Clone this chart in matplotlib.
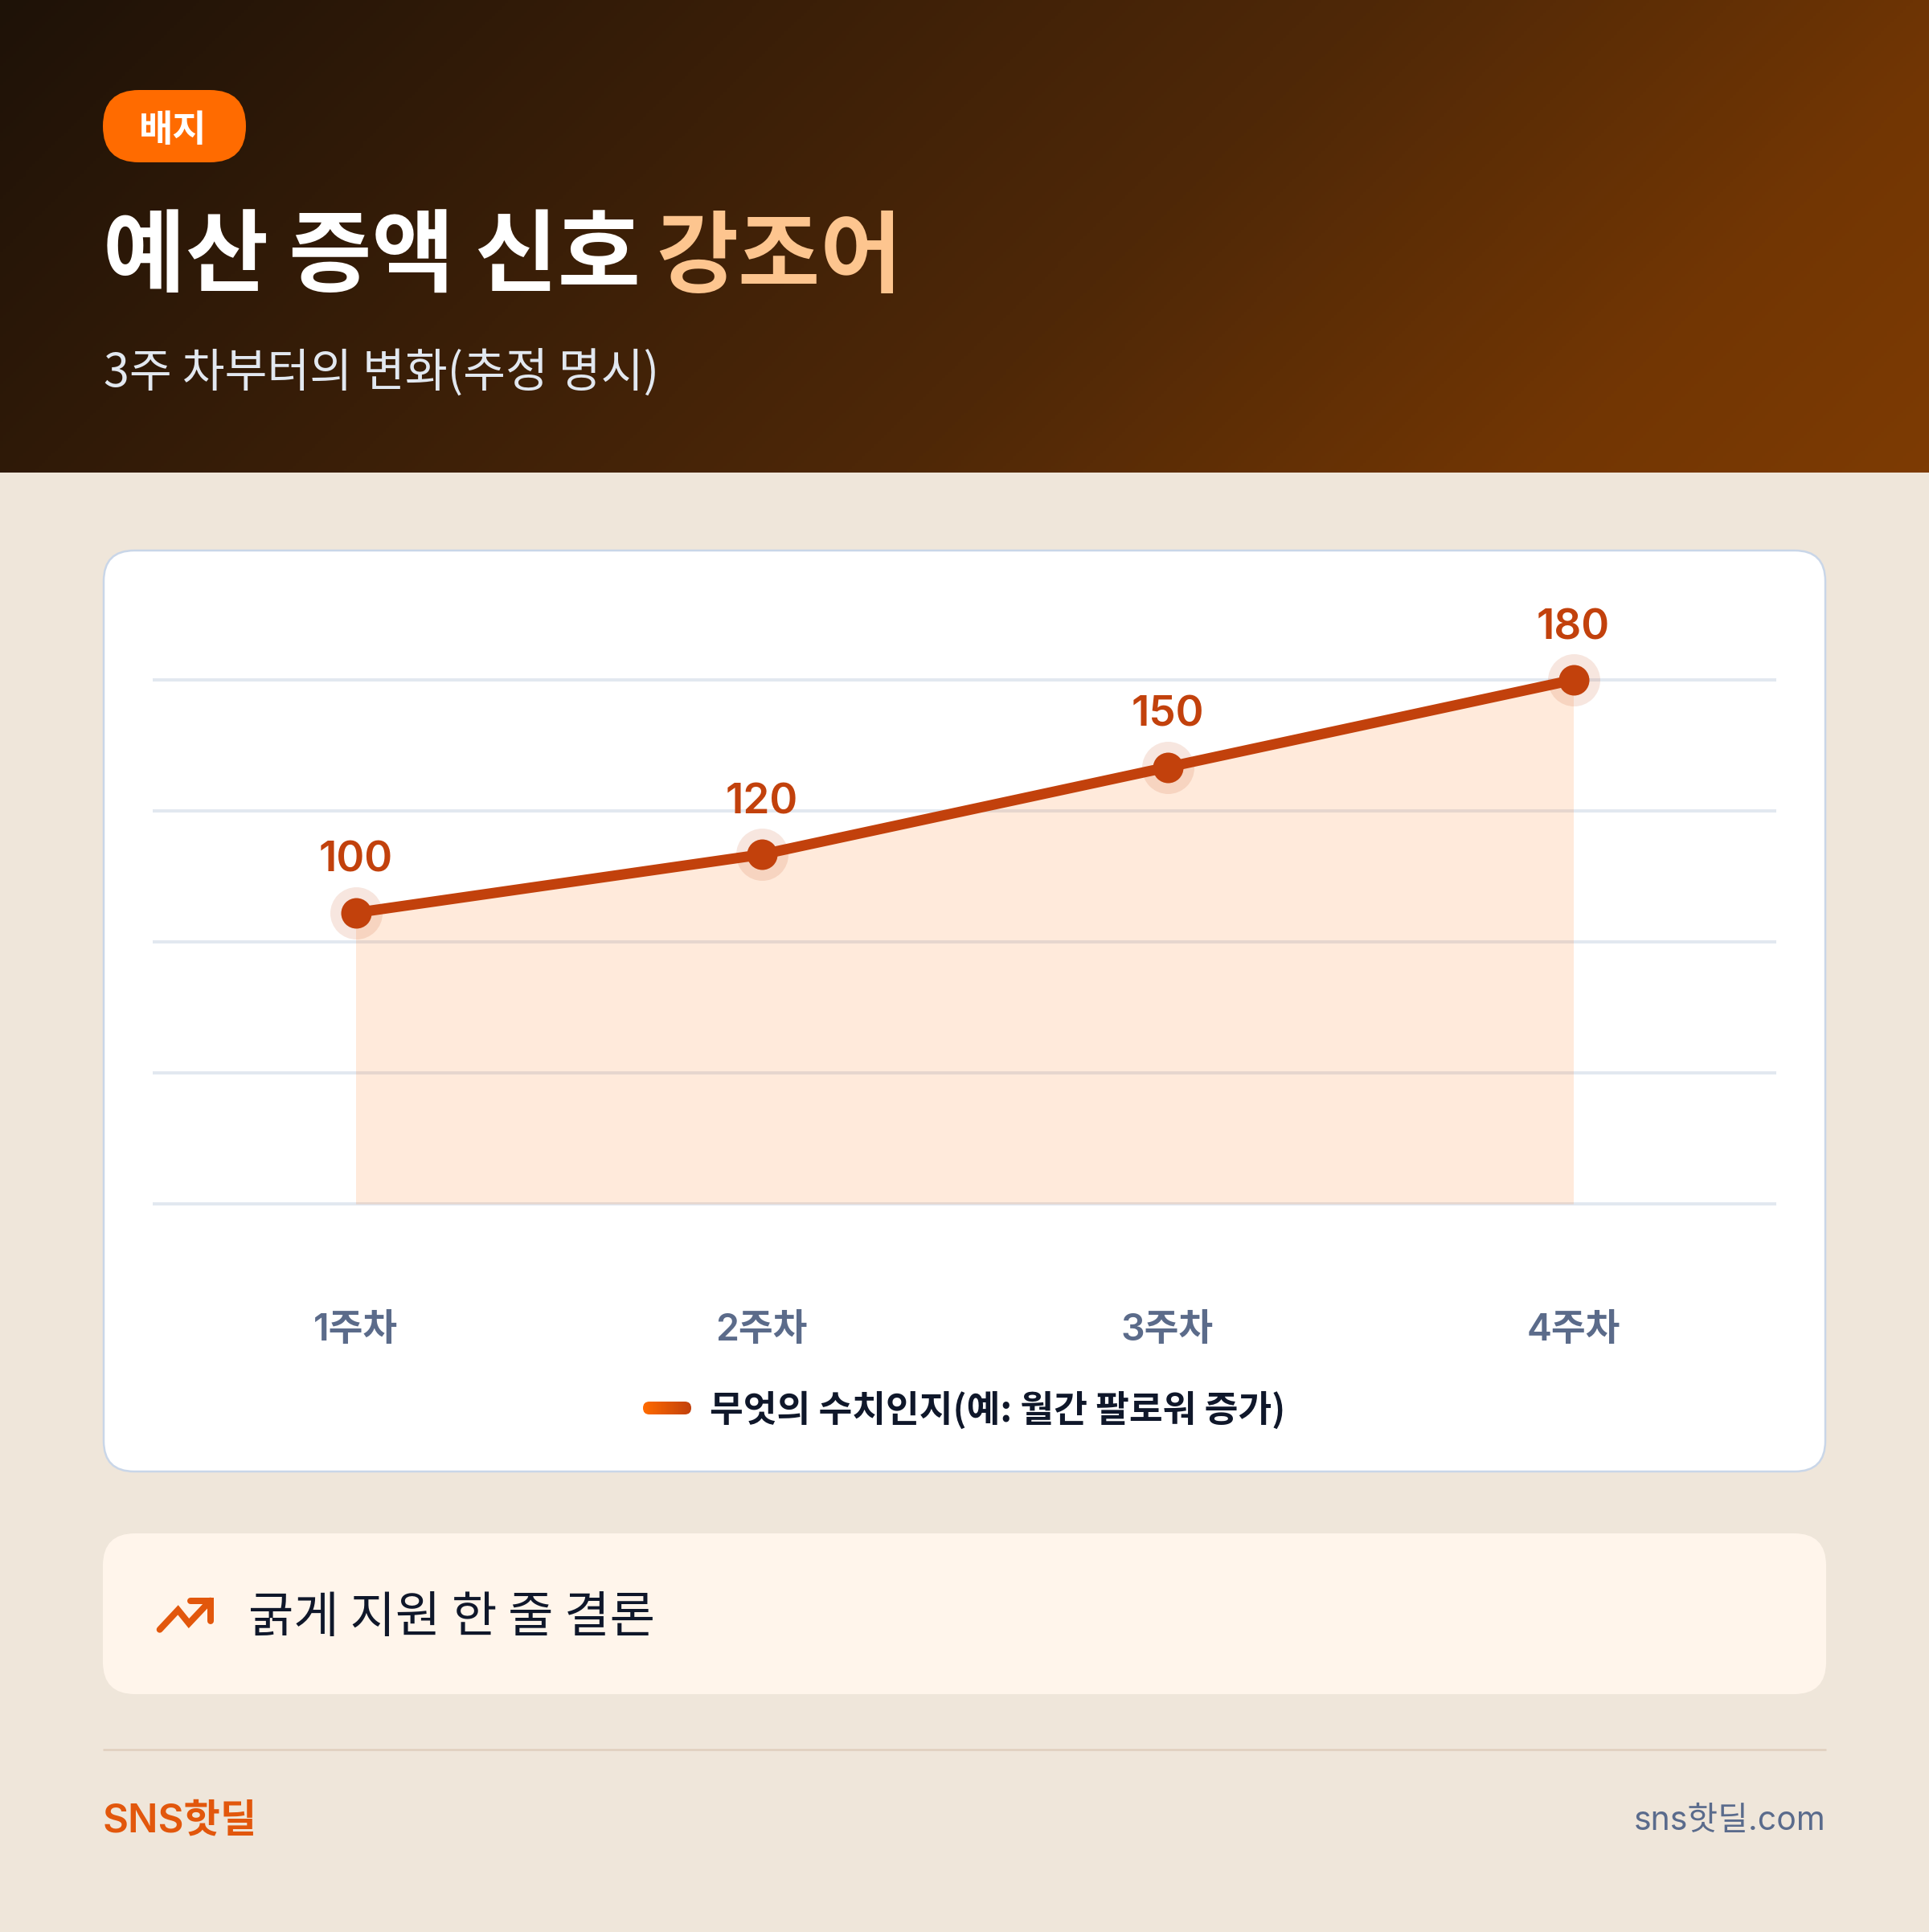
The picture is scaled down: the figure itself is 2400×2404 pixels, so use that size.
import numpy as np
import matplotlib
matplotlib.use("Agg")
import matplotlib.pyplot as plt
from matplotlib.patches import FancyBboxPatch
from matplotlib.colors import LinearSegmentedColormap

weeks = ["1주차", "2주차", "3주차", "4주차"]
values = [100, 120, 150, 180]
grid_values = [0, 45, 90, 135, 180]
legend_label = "무엇의 수치인지(예: 월간 팔로워 증가)"

FONT = ["Inter", "Noto Sans CJK KR", "DejaVu Sans"]
KR_FIRST = ["Noto Sans CJK KR", "Inter", "DejaVu Sans"]
plt.rcParams["font.family"] = FONT

W, H = 2400, 2404
DPI = 100


def px(size):
    # css pixels to points
    return size * 72 / DPI


fig = plt.figure(figsize=(W / DPI, H / DPI), dpi=DPI, facecolor="#efe6da")

# page layer, in image pixels
bg = fig.add_axes([0, 0, 1, 1], zorder=0)
bg.set_xlim(0, W)
bg.set_ylim(H, 0)
bg.axis("off")

# header gradient, 135deg
hh = 588
xx, yy = np.meshgrid(np.linspace(0, W, 600), np.linspace(0, hh, 150))
t = (xx + yy) / (W + hh)
head_cmap = LinearSegmentedColormap.from_list(
    "head", [(0, "#1e1207"), (0.576, "#4f2807"), (0.837, "#723604"), (1, "#7d3b03")])
bg.imshow(t, extent=(0, W, hh, 0), cmap=head_cmap, vmin=0, vmax=1, aspect="auto", zorder=1)
bg.set_xlim(0, W)
bg.set_ylim(H, 0)

# badge
bg.add_patch(FancyBboxPatch((128, 112), 178, 90, boxstyle="round,pad=0,rounding_size=45",
                            fc="#ff6b00", ec="none", zorder=2))
bg.text(215, 157, "배지", color="white", fontsize=px(46), fontweight="bold", family=KR_FIRST,
        ha="center", va="center_baseline", zorder=3)

# title in two colours
t1 = bg.text(128, 355, "예산 증액 신호", color="white", fontsize=px(112), fontweight="bold",
             family=KR_FIRST, ha="left", va="baseline", zorder=3)
fig.canvas.draw()
box = t1.get_window_extent(fig.canvas.get_renderer())
bg.text(box.x1 + 19, 355, "강조어", color="#fdc58f", fontsize=px(111), fontweight="bold",
        family=KR_FIRST, ha="left", va="baseline", zorder=3)

bg.text(129, 482, "3주 차부터의 변화(추정 명시)", color="#e2e8f0", fontsize=px(57.5),
        family=KR_FIRST, ha="left", va="baseline", zorder=3)

# chart card
bg.add_patch(FancyBboxPatch((129, 685), 2142, 1146, boxstyle="round,pad=0,rounding_size=38",
                            fc="white", ec="#c9d6e8", lw=px(2.5), zorder=2))

# legend swatch
sw = FancyBboxPatch((800, 1744), 60, 16, boxstyle="round,pad=0,rounding_size=8",
                    fc="none", ec="none", zorder=3)
bg.add_patch(sw)
swatch_cmap = LinearSegmentedColormap.from_list("sw", ["#ff6b00", "#c2410c"])
im = bg.imshow(np.linspace(0, 1, 60).reshape(1, -1), extent=(800, 860, 1760, 1744),
               cmap=swatch_cmap, aspect="auto", zorder=3)
im.set_clip_path(sw)
bg.set_xlim(0, W)
bg.set_ylim(H, 0)
bg.text(883, 1750, legend_label, color="#0f172a", fontsize=px(45.4), fontweight="semibold",
        family=KR_FIRST, ha="left", va="center_baseline", zorder=3)

# callout
bg.add_patch(FancyBboxPatch((128, 1908), 2144, 200, boxstyle="round,pad=0,rounding_size=40",
                            fc="#fff5eb", ec="none", zorder=2))
bg.plot([198.7, 221.5, 235, 261.7], [2027.7, 2003.3, 2020, 1991.7], color="#e2570c", lw=px(8),
        solid_capstyle="round", solid_joinstyle="miter", zorder=3)
bg.plot([237, 261.7, 261.7], [1991.7, 1991.7, 2016.7], color="#e2570c", lw=px(8),
        solid_capstyle="round", solid_joinstyle="miter", zorder=3)
bg.text(309, 2007, "굵게 지원 한 줄 결론", color="#0f172a", fontsize=px(61.3), family=KR_FIRST,
        ha="left", va="center_baseline", zorder=3)

# footer
bg.plot([128, 2272], [2177, 2177], color="#e0cfbe", lw=px(2.5), solid_capstyle="butt", zorder=2)
bg.text(128, 2262, "SNS핫딜", color="#e2570c", fontsize=px(49.3), fontweight="semibold",
        ha="left", va="center_baseline", zorder=3)
bg.text(2272, 2262, "sns핫딜.com", color="#5a6b8c", fontsize=px(41),
        ha="right", va="center_baseline", zorder=3)

# data axes: 0..180 runs from y=1498 to y=846, bands from x=190 to x=2210
ax = fig.add_axes([190 / W, 1 - 1498 / H, 2020 / W, 652 / H], zorder=1)
ax.patch.set_alpha(0)
x = np.arange(len(weeks))
ax.set_xlim(-0.5, len(weeks) - 0.5)
ax.set_ylim(0, 180)
for s in ax.spines.values():
    s.set_visible(False)

ax.set_yticks(grid_values)
ax.set_yticklabels([])
ax.tick_params(axis="y", length=0)
ax.yaxis.grid(True, color="#e2e8f0", lw=px(4), zorder=1)
ax.set_axisbelow(True)
for line in ax.get_ygridlines():
    line.set_clip_on(False)
    line.set_solid_capstyle("butt")

ax.set_xticks(x)
ax.set_xticklabels(weeks, fontsize=px(46.5), fontweight="semibold", color="#5b6b8a")
ax.tick_params(axis="x", length=0, pad=px(136))

ax.fill_between(x, values, 0, color="#ff6b00", alpha=0.14, lw=0, zorder=2)
ax.plot(x, values, color="#c2410c", lw=px(13), solid_capstyle="round", zorder=3, clip_on=False)
ax.scatter(x, values, s=px(65) ** 2, color="#c2410c", alpha=0.13, lw=0, zorder=3, clip_on=False)
ax.scatter(x, values, s=px(38) ** 2, color="#c2410c", lw=0, zorder=4, clip_on=False)

for xi, v in zip(x, values):
    ax.annotate(str(v), (xi, v), xytext=(0, px(70)), textcoords="offset points", ha="center",
                va="center_baseline", fontsize=px(53), fontweight="semibold", color="#c2410c",
                annotation_clip=False, zorder=5)

fig.savefig("out.png", dpi=DPI, facecolor=fig.get_facecolor())
